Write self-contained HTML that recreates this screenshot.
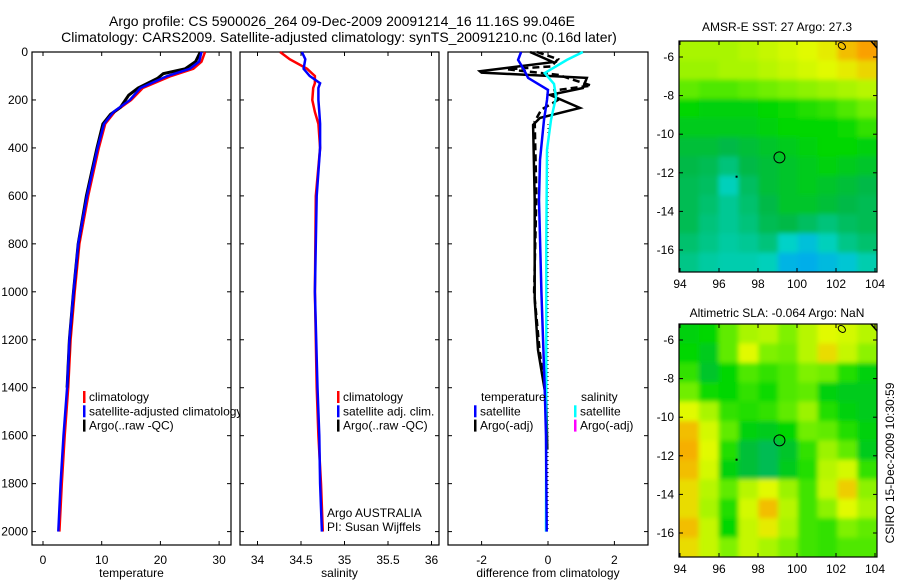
<!DOCTYPE html>
<html><head><meta charset="utf-8"><style>
html,body{margin:0;padding:0;background:#fff;}
svg{display:block;font-family:"Liberation Sans",sans-serif;}
</style></head><body>
<svg id="c" width="900" height="580" viewBox="0 0 900 580" xmlns="http://www.w3.org/2000/svg">
<defs>
<clipPath id="cp1"><rect x="32" y="0" width="208" height="580"/></clipPath>
<clipPath id="m1"><rect x="679" y="41" width="198" height="231"/></clipPath>
<clipPath id="m2"><rect x="679" y="324" width="198" height="233"/></clipPath>
<filter id="bl" x="-10%" y="-10%" width="120%" height="120%"><feGaussianBlur stdDeviation="2.5"/></filter>
</defs>
<text x="342" y="26" font-size="14" text-anchor="middle">Argo profile: CS 5900026_264 09-Dec-2009 20091214_16 11.16S 99.046E</text>
<text x="339" y="42" font-size="14" text-anchor="middle">Climatology: CARS2009. Satellite-adjusted climatology: synTS_20091210.nc (0.16d later)</text>
<g id="g"></g>
</svg>
<script>
// ---- data ----
const depthTicks=[0,200,400,600,800,1000,1200,1400,1600,1800,2000];
const tempTicks=[0,10,20,30];
const salTicks=[34,34.5,35,35.5,36];
const diffTicks=[-2,0,2];
const tClimDepth=[0,40,70,100,150,200,250,300,400,500,600,800,1000,1200,1400,1600,1800,2000];
const tClim=[27.6,27.0,25.6,21.8,17.0,15.0,12.2,10.6,9.5,8.6,7.7,6.2,5.4,4.7,4.3,3.7,3.2,2.8];
const tSat=[27.0,26.6,25.0,21.2,16.6,14.8,12.0,10.4,9.3,8.4,7.5,6.0,5.2,4.5,4.1,3.5,3.0,2.6];
const tArgoDepth=[0,40,70,90,110,150,180,230,260,300,400,500,600,800,1000,1200,1400];
const tArgo=[26.8,26.0,24.2,20.5,19.5,16.2,14.6,13.2,11.5,10.2,9.2,8.3,7.4,6.0,5.2,4.5,4.1];
const sDepth=[0,30,70,100,130,150,200,250,300,400,600,1000,1400,1600,1800,2000];
const sClim=[34.26,34.37,34.57,34.66,34.66,34.64,34.63,34.66,34.70,34.72,34.67,34.66,34.68,34.70,34.73,34.75];
const sSat=[34.51,34.55,34.53,34.60,34.72,34.70,34.70,34.71,34.72,34.72,34.68,34.66,34.69,34.71,34.72,34.74];
const dTDepth=[0,33,75,108,158,200,283,450,617,1000,1400,1600,2000];
const dTSat=[-0.81,-0.9,-0.72,-0.6,0.0,-0.03,-0.12,-0.24,-0.27,-0.2,-0.1,-0.06,-0.04];
const dSDepth=[0,33,88,133,188,283,408,800,1400,2000];
const dSSat=[1.05,0.57,-0.1,0.18,0.24,0.09,-0.03,-0.05,-0.05,-0.06];
const dADepth=[0,42,80,86,108,150,179,233,275,304,617,1033,1242,1450,1658];
const dArgo=[-0.54,0.15,-2.05,-2.0,1.17,1.05,0.06,0.96,-0.24,-0.45,-0.4,-0.4,-0.3,-0.05,-0.02];
const dArgoDashDepth=[0,30,60,72,95,140,160,200,240,290,600,1000,1250,1450];
const dArgoDash=[-0.33,0.3,0.1,-1.23,0.3,1.3,0.2,0.3,-0.2,-0.4,-0.35,-0.42,-0.25,-0.05];
const mapLatTicks=[-6,-8,-10,-12,-14,-16];
const mapLonTicks=[94,96,98,100,102,104];
const sstGrid=[
[.72,.72,.72,.74,.76,.78,.80,.82,.88,.92],
[.70,.70,.72,.72,.74,.76,.78,.80,.82,.85],
[.62,.60,.60,.62,.64,.66,.68,.70,.72,.74],
[.50,.48,.48,.48,.50,.52,.54,.56,.60,.64],
[.46,.46,.46,.46,.48,.50,.50,.50,.52,.56],
[.42,.42,.40,.42,.44,.46,.48,.50,.50,.48],
[.40,.38,.32,.40,.42,.44,.46,.48,.46,.44],
[.38,.36,.22,.36,.42,.44,.46,.44,.42,.40],
[.38,.34,.28,.34,.40,.44,.44,.42,.40,.38],
[.38,.32,.28,.32,.38,.40,.36,.32,.36,.38],
[.34,.30,.26,.28,.32,.20,.14,.22,.30,.34],
[.30,.26,.24,.24,.22,.10,.08,.12,.16,.24]];
const slaGrid=[
[.48,.50,.62,.72,.74,.66,.74,.80,.78,.74],
[.50,.46,.62,.80,.66,.64,.74,.84,.76,.68],
[.56,.44,.50,.60,.56,.60,.66,.64,.54,.48],
[.64,.52,.50,.56,.52,.60,.62,.48,.46,.46],
[.80,.72,.56,.54,.56,.62,.70,.54,.48,.46],
[.88,.78,.62,.48,.46,.50,.64,.62,.54,.48],
[.90,.80,.54,.42,.38,.44,.56,.70,.62,.46],
[.88,.78,.48,.42,.38,.46,.54,.74,.78,.56],
[.84,.74,.62,.74,.80,.70,.58,.76,.86,.68],
[.84,.72,.54,.78,.88,.74,.58,.68,.80,.72],
[.88,.76,.50,.76,.82,.72,.58,.56,.66,.62],
[.84,.76,.66,.76,.72,.66,.58,.56,.60,.60]];
const floatLon=99.1, floatLat=-11.2;

// ---- scales ----
const PT=52,PB=545;
const yD=d=>52+d*0.2398;
const xT=t=>43+t*5.87;
const xS=s=>257.5+(s-34)*87;
const xDf=v=>548+v*33.2;
const g=document.getElementById('g');
const NS='http://www.w3.org/2000/svg';
function el(tag,attrs,parent){const e=document.createElementNS(NS,tag);for(const k in attrs)e.setAttribute(k,attrs[k]);(parent||g).appendChild(e);return e;}
function txt(x,y,s,size,anchor,parent){const t=el('text',{x:x,y:y,'font-size':size,'text-anchor':anchor||'start'},parent);t.textContent=s;return t;}
function prof(xf,vals,depths,color,w,dash,parent){
  let d='';vals.forEach((v,i)=>{d+=(i?'L':'M')+xf(v).toFixed(1)+','+yD(depths[i]).toFixed(1);});
  const p=el('path',{d:d,fill:'none',stroke:color,'stroke-width':w},parent);
  if(dash)p.setAttribute('stroke-dasharray',dash);
  return p;
}
function panel(x0,x1,name,xticks,xf,xlabel,leftLabels){
  const grp=el('g',{});
  
  
  el('rect',{x:x0,y:PT,width:x1-x0,height:PB-PT,fill:'none',stroke:'#000','stroke-width':1.2},grp);
  depthTicks.forEach(d=>{
    const y=yD(d);
    el('line',{x1:x0,x2:x0+4,y1:y,y2:y,stroke:'#000'},grp);
    el('line',{x1:x1-4,x2:x1,y1:y,y2:y,stroke:'#000'},grp);
    if(leftLabels){const t=txt(x0-4,y+4,String(d),12,'end',grp);
      
      }
  });
  xticks.forEach(v=>{
    const x=xf(v);
    el('line',{x1:x,x2:x,y1:PB,y2:PB-4,stroke:'#000'},grp);
    el('line',{x1:x,x2:x,y1:PT,y2:PT+4,stroke:'#000'},grp);
    const t=txt(x,564,String(v),12,'middle',grp);
    
    
  });
  const xl=txt((x0+x1)/2,577,xlabel,12,'middle',grp);
  
  
  return grp;
}
// panel 1 temperature
const p1=panel(32,231,'temperature-panel',tempTicks,xT,'temperature',true);
const l1=prof(xT,tClim,tClimDepth,'#f00',2.5,null,p1);


const l2=prof(xT,tArgo,tArgoDepth,'#000',3,null,p1);


const l3=prof(xT,tSat,tClimDepth,'#00f',2.5,null,p1);


function legend(parent,mx,items,y0,clip){
  items.forEach((it,i)=>{
    const y=y0+i*14.3;
    const m=el('rect',{x:mx,y:y-6,width:2.5,height:12,fill:it[1]},parent);
    
    
    const t=txt(mx+6,y+4,it[0],12,'start',parent);
    
    
    if(clip)t.setAttribute('clip-path','url(#cp1)');
  });
}
legend(p1,83,[['climatology','#f00'],['satellite-adjusted climatology','#00f'],['Argo(..raw -QC)','#000']],397,true);
// panel 2 salinity
const p2=panel(240,439,'salinity-panel',salTicks,xS,'salinity',false);
const s1=prof(xS,sClim,sDepth,'#f00',2.5,null,p2);


const s2=prof(xS,sSat,sDepth,'#00f',2.5,null,p2);


legend(p2,337,[['climatology','#f00'],['satellite adj. clim.','#00f'],['Argo(..raw -QC)','#000']],397,false);
const a1=txt(327,517,'Argo AUSTRALIA',12,'start',p2);


const a2=txt(327,531,'PI: Susan Wijffels',12,'start',p2);


// panel 3 difference
const p3=panel(448,648,'difference-panel',diffTicks,xDf,'difference from climatology',false);
const z=el('line',{x1:xDf(0),x2:xDf(0),y1:yD(300),y2:yD(2000),stroke:'#000','stroke-dasharray':'1,3'},p3);


const d1=prof(xDf,dArgo,dADepth,'#000',2.5,null,p3);


const d2=prof(xDf,dArgoDash,dArgoDashDepth,'#000',2.5,'7,4',p3);


const d3=prof(xDf,dSSat,dSDepth,'#0ff',2.5,null,p3);


const d4=prof(xDf,dTSat,dTDepth,'#00f',2.5,null,p3);


const h1=txt(481,401,'temperature',12,'start',p3);


const h2=txt(581,401,'salinity',12,'start',p3);


legend(p3,474,[['satellite','#00f'],['Argo(-adj)','#000']],411.3,false);
legend(p3,574,[['satellite','#0ff'],['Argo(-adj)','#f0f']],411.3,false);

// ---- maps ----
const stops=[[0,[0,150,255]],[0.2,[0,210,200]],[0.4,[0,185,70]],[0.5,[0,215,0]],[0.65,[120,240,0]],[0.8,[225,250,0]],[0.92,[250,160,0]],[1,[240,110,0]]];
function cmap(v){for(let i=1;i<stops.length;i++){if(v<=stops[i][0]){const a=stops[i-1],b=stops[i],f=(v-a[0])/(b[0]-a[0]);const c=a[1].map((q,k)=>Math.round(q+(b[1][k]-q)*f));return 'rgb('+c.join(',')+')';}}return 'rgb(240,110,0)';}
function mapPanel(name,grid,top,bot,clipId,title,titleY){
  const grp=el('g',{});
  
  
  const x0=679,x1=877;
  const lonX=lon=>680+(lon-94)*19.5;
  const lat6=top+16,lat16=top+209;
  const latY=lat=>lat6+(-6-lat)*(lat16-lat6)/10;
  const cells=el('g',{'clip-path':'url(#'+clipId+')'},grp);
  const inner=el('g',{filter:'url(#bl)'},cells);
  const nr=grid.length,nc=grid[0].length;
  const cw=(x1-x0)/nc,ch=(bot-top)/nr;
  grid.forEach((row,r)=>row.forEach((v,c)=>{
    const rc=el('rect',{x:x0+c*cw-(c==0?10:0),y:top+r*ch-(r==0?10:0),width:cw+(c==0||c==nc-1?11:1),height:ch+(r==0||r==nr-1?11:1),fill:cmap(v)},inner);
    
    
  }));
  el('rect',{x:x0,y:top,width:x1-x0,height:bot-top,fill:'none',stroke:'#000','stroke-width':1.2},grp);
  mapLatTicks.forEach(lat=>{const y=latY(lat);
    el('line',{x1:x0,x2:x0+4,y1:y,y2:y,stroke:'#000'},grp);
    el('line',{x1:x1-4,x2:x1,y1:y,y2:y,stroke:'#000'},grp);
    const t=txt(x0-5,y+4,String(lat),12,'end',grp);
    
    });
  mapLonTicks.forEach(lon=>{const x=lonX(lon);
    el('line',{x1:x,x2:x,y1:bot,y2:bot-4,stroke:'#000'},grp);
    el('line',{x1:x,x2:x,y1:top,y2:top+4,stroke:'#000'},grp);
    const t=txt(x,bot+16,String(lon),12,'middle',grp);
    
    });
  const ci=el('circle',{cx:lonX(floatLon),cy:latY(floatLat),r:5.5,fill:'none',stroke:'#000','stroke-width':1},grp);
  
  
  el('rect',{x:lonX(96.85),y:latY(-12.15),width:2,height:2,fill:'#000'},grp);
  el('ellipse',{cx:lonX(102.3),cy:top+5,rx:4,ry:3,fill:'none',stroke:'#000',transform:'rotate(40 '+lonX(102.3)+' '+(top+5)+')'},grp);
  el('line',{x1:x1-6,y1:top,x2:x1,y2:top+7,stroke:'#000','stroke-width':1.5},grp);
  const tt=txt(777,titleY,title,12,'middle',grp);
  
  
}
mapPanel('sst-map',sstGrid,41,272,'m1','AMSR-E SST: 27 Argo: 27.3',31);
mapPanel('sla-map',slaGrid,324,557,'m2','Altimetric SLA: -0.064 Argo: NaN',317);
const cs=txt(0,0,'CSIRO 15-Dec-2009 10:30:59',12,'middle');
cs.setAttribute('transform','translate(894,463) rotate(-90)');


</script>
</body></html>
